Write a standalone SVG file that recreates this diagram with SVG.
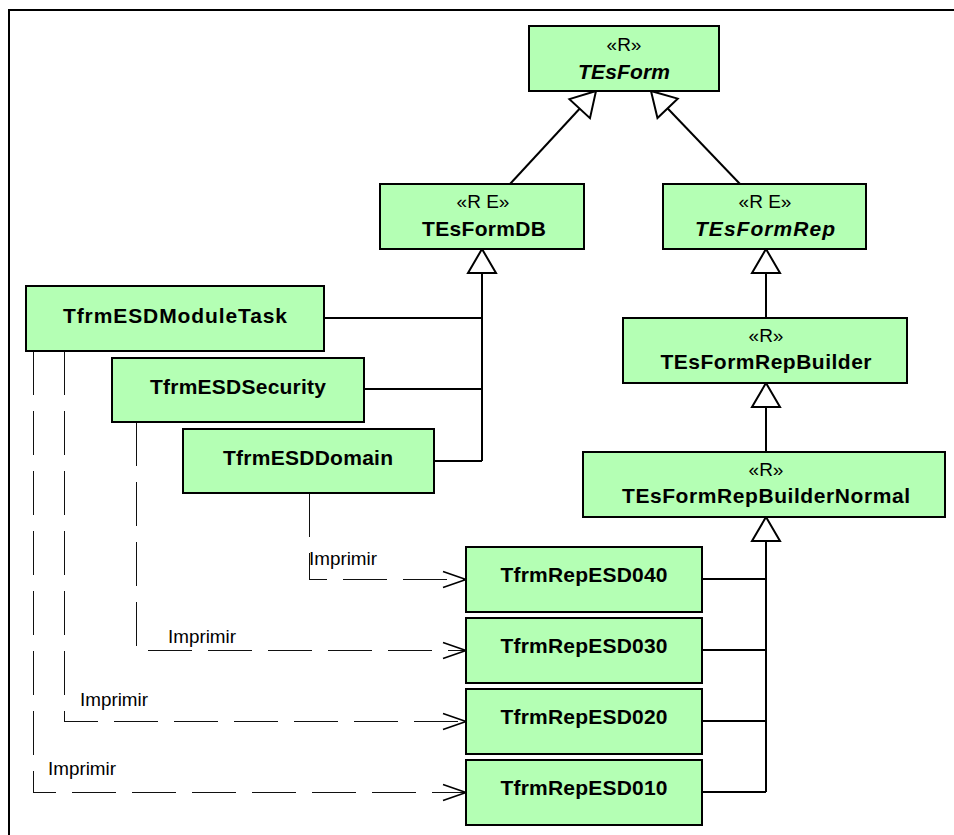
<svg xmlns="http://www.w3.org/2000/svg" width="954" height="835" viewBox="0 0 954 835">
  <style>
    .cls rect { fill: #b4ffb4; stroke: #000; stroke-width: 2; }
    .st { font-family: "Liberation Sans", Arial, sans-serif; font-size: 19px; fill: #000; text-anchor: middle; }
    .nm { font-family: "Liberation Sans", Arial, sans-serif; font-size: 21px; font-weight: bold; fill: #000; text-anchor: middle; }
    .it { font-style: italic; }
    .gen { fill: none; stroke: #000; stroke-width: 2; }
    .dep { fill: none; stroke: #111; stroke-width: 1; stroke-dasharray: 44 16; shape-rendering: crispEdges; }
    .lbl { font-family: "Liberation Sans", Arial, sans-serif; font-size: 19px; fill: #000; }
  </style>
  <defs>
    <marker id="tri" markerUnits="userSpaceOnUse" markerWidth="32" markerHeight="32" viewBox="-26 -16 28 32" refX="0" refY="0" orient="auto">
      <path d="M0,0 L-24,-14 L-24,14 Z" fill="#fff" stroke="#000" stroke-width="2"/>
    </marker>
    <marker id="open" markerUnits="userSpaceOnUse" markerWidth="30" markerHeight="24" viewBox="-26 -12 28 24" refX="0" refY="0" orient="auto">
      <path d="M-23,-8 L0,0 L-23,8" fill="none" stroke="#000" stroke-width="1.6"/>
    </marker>
  </defs>

  <rect width="954" height="835" fill="#fff"/>
  <!-- frame -->
  <path d="M9,835 L9,10 L954,10" fill="none" stroke="#000" stroke-width="2"/>

  <!-- connectors -->
  <g id="connectors">
    <!-- generalizations -->
    <path class="gen" d="M510,184 L596,91" marker-end="url(#tri)"/>
    <path class="gen" d="M740,184 L651,91" marker-end="url(#tri)"/>
    <path class="gen" d="M324,318 H482 M364,389 H482 M434,461 H482"/>
    <path class="gen" d="M482,461 V249" marker-end="url(#tri)"/>
    <path class="gen" d="M766,318 V249" marker-end="url(#tri)"/>
    <path class="gen" d="M766,452 V383" marker-end="url(#tri)"/>
    <path class="gen" d="M702,579 H766 M702,650 H766 M702,721 H766 M702,792 H766"/>
    <path class="gen" d="M766,792 V517" marker-end="url(#tri)"/>
    <!-- dependencies -->
    <path class="dep" d="M309.5,493 V579.5 H466" marker-end="url(#open)"/>
    <path class="dep" d="M136.5,422 V650.5 H466" marker-end="url(#open)"/>
    <path class="dep" d="M64.5,351 V721.5 H466" marker-end="url(#open)"/>
    <path class="dep" d="M33.5,351 V792.5 H466" marker-end="url(#open)"/>
    <text class="lbl" x="309" y="565" textLength="68" lengthAdjust="spacingAndGlyphs">Imprimir</text>
    <text class="lbl" x="168" y="643" textLength="68" lengthAdjust="spacingAndGlyphs">Imprimir</text>
    <text class="lbl" x="80" y="706" textLength="68" lengthAdjust="spacingAndGlyphs">Imprimir</text>
    <text class="lbl" x="48" y="775" textLength="68" lengthAdjust="spacingAndGlyphs">Imprimir</text>
  </g>

  <g id="TEsForm" class="cls">
    <rect x="529" y="26" width="190" height="65"/>
    <text class="st" x="624" y="51">«R»</text>
    <text class="nm it" x="624" y="79" textLength="92" lengthAdjust="spacing">TEsForm</text>
  </g>
  <g id="TEsFormDB" class="cls">
    <rect x="380" y="184" width="204" height="65"/>
    <text class="st" x="483" y="208">«R E»</text>
    <text class="nm" x="484" y="236" textLength="124" lengthAdjust="spacing">TEsFormDB</text>
  </g>
  <g id="TEsFormRep" class="cls">
    <rect x="663" y="184" width="203" height="65"/>
    <text class="st" x="765" y="208">«R E»</text>
    <text class="nm it" x="765" y="236" textLength="140" lengthAdjust="spacing">TEsFormRep</text>
  </g>
  <g id="TEsFormRepBuilder" class="cls">
    <rect x="623" y="318" width="284" height="65"/>
    <text class="st" x="766" y="342">«R»</text>
    <text class="nm" x="766" y="369" textLength="211" lengthAdjust="spacing">TEsFormRepBuilder</text>
  </g>
  <g id="TEsFormRepBuilderNormal" class="cls">
    <rect x="583" y="452" width="362" height="65"/>
    <text class="st" x="766" y="476">«R»</text>
    <text class="nm" x="766" y="503" textLength="288" lengthAdjust="spacing">TEsFormRepBuilderNormal</text>
  </g>
  <g id="TfrmESDModuleTask" class="cls">
    <rect x="26" y="286" width="298" height="65"/>
    <text class="nm" x="175" y="323" textLength="224" lengthAdjust="spacing">TfrmESDModuleTask</text>
  </g>
  <g id="TfrmESDSecurity" class="cls">
    <rect x="112" y="358" width="252" height="64"/>
    <text class="nm" x="238" y="394" textLength="176" lengthAdjust="spacing">TfrmESDSecurity</text>
  </g>
  <g id="TfrmESDDomain" class="cls">
    <rect x="183" y="429" width="251" height="64"/>
    <text class="nm" x="308" y="465" textLength="170" lengthAdjust="spacing">TfrmESDDomain</text>
  </g>
  <g id="TfrmRepESD040" class="cls">
    <rect x="466" y="547" width="236" height="65"/>
    <text class="nm" x="584" y="582" textLength="167" lengthAdjust="spacing">TfrmRepESD040</text>
  </g>
  <g id="TfrmRepESD030" class="cls">
    <rect x="466" y="618" width="236" height="65"/>
    <text class="nm" x="584" y="653" textLength="167" lengthAdjust="spacing">TfrmRepESD030</text>
  </g>
  <g id="TfrmRepESD020" class="cls">
    <rect x="466" y="689" width="236" height="65"/>
    <text class="nm" x="584" y="724" textLength="167" lengthAdjust="spacing">TfrmRepESD020</text>
  </g>
  <g id="TfrmRepESD010" class="cls">
    <rect x="466" y="760" width="236" height="65"/>
    <text class="nm" x="584" y="795" textLength="167" lengthAdjust="spacing">TfrmRepESD010</text>
  </g>
</svg>
